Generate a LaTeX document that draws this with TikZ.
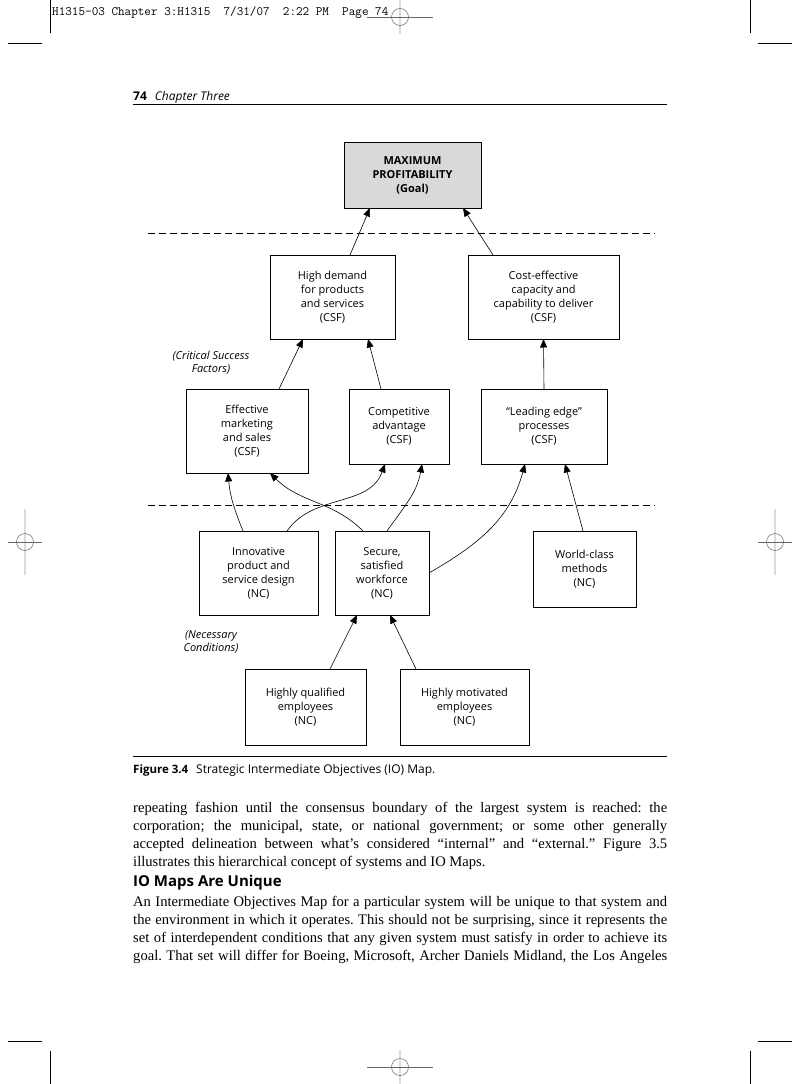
\documentclass[tikz,border=0pt]{standalone}
\usepackage{fontspec}
\setmainfont{Liberation Serif}
\setsansfont{Open Sans}
\usetikzlibrary{arrows.meta}
\definecolor{goalgray}{gray}{0.85}
\definecolor{reggray}{gray}{0.86}
\tikzset{
  box/.style={draw, line width=0.8pt, inner sep=0pt, outer sep=0pt, align=center,
    font=\sffamily\fontsize{11}{14}\selectfont},
  goalbox/.style={box, fill=goalgray, font=\sffamily\bfseries\fontsize{11}{14}\selectfont},
  note/.style={align=center, inner sep=0pt, font=\sffamily\itshape\fontsize{11}{13.5}\selectfont},
  link/.style={line width=0.6pt, -{Triangle[length=8.5pt, width=7pt]}},
  divider/.style={line width=0.7pt, dash pattern=on 6.5pt off 4.5pt},
  crop/.style={line width=0.8pt},
  bodyline/.style={anchor=base west, inner sep=0pt, font=\frenchspacing\fontsize{14.6}{18}\selectfont},
}
\begin{document}
\begin{tikzpicture}[x=1pt, y=-1pt]
    \useasboundingbox (0, 0) rectangle (800, 1084) ;
    % crop marks
    \draw[crop] (50, 0) -- (50, 33) ;
    \draw[crop] (8, 43) -- (42, 43) ;
    \draw[crop] (750, 0) -- (750, 33) ;
    \draw[crop] (758, 43) -- (792, 43) ;
    \draw[crop] (50, 1051) -- (50, 1084) ;
    \draw[crop] (8, 1041) -- (42, 1041) ;
    \draw[crop] (750, 1051) -- (750, 1084) ;
    \draw[crop] (758, 1041) -- (792, 1041) ;
    % registration marks
    \draw[reggray, line width=1.5pt] (400, 0) -- (400, 34) ;
    \draw[gray!80!black, line width=0.6pt] (367, 17) -- (433, 17) ;
    \draw[gray!80!black, line width=0.5pt] (400, 17) circle (8.5) ;
    \draw[reggray, line width=1.5pt] (400, 1050) -- (400, 1084) ;
    \draw[gray!80!black, line width=0.6pt] (367, 1067) -- (433, 1067) ;
    \draw[gray!80!black, line width=0.5pt] (400, 1067) circle (8.5) ;
    \draw[reggray, line width=1.5pt] (25, 509) -- (25, 575) ;
    \draw[gray!80!black, line width=0.6pt] (8, 542) -- (42, 542) ;
    \draw[gray!80!black, line width=0.5pt] (25, 542) circle (8.5) ;
    \draw[reggray, line width=1.5pt] (775, 509) -- (775, 575) ;
    \draw[gray!80!black, line width=0.6pt] (758, 542) -- (792, 542) ;
    \draw[gray!80!black, line width=0.5pt] (775, 542) circle (8.5) ;
    \node[anchor=base west, inner sep=0pt, font=\ttfamily\fontsize{12.8}{14}\selectfont] (slug) at (52, 15)
      {H1315-03 Chapter 3:H1315\ \ 7/31/07\ \ 2:22 PM\ \ Page 74} ;
    % running head
    \node[anchor=base west, inner sep=0pt, font=\sffamily\fontsize{12}{14}\selectfont] (runhead) at (133, 100)
      {\textbf{74}\hspace{8pt}\textit{Chapter Three}} ;
    \draw[crop] (133, 104) -- (667, 104) ;
    % the map
    \node[goalbox, minimum width=137, minimum height=66] (goal) at (412.5, 175)
      {MAXIMUM\\PROFITABILITY\\(Goal)} ;
    \draw[divider] (148, 233) -- (655, 233) ;
    \node[box, minimum width=125, minimum height=84] (demand) at (332.5, 297)
      {High demand\\for products\\and services\\(CSF)} ;
    \node[box, minimum width=151, minimum height=84] (capacity) at (543.5, 297)
      {Cost-effective\\capacity and\\capability to deliver\\(CSF)} ;
    \node[note] (csflabel) at (211, 362.5) {(Critical Success\\Factors)} ;
    \node[box, minimum width=122, minimum height=84] (marketing) at (247, 431)
      {Effective\\marketing\\and sales\\(CSF)} ;
    \node[box, minimum width=100, minimum height=75] (advantage) at (399, 426.5)
      {Competitive\\advantage\\(CSF)} ;
    \node[box, minimum width=126, minimum height=75] (processes) at (544, 426.5)
      {``Leading edge''\\processes\\(CSF)} ;
    \draw[divider] (148, 505) -- (655, 505) ;
    \node[box, minimum width=119, minimum height=84] (design) at (258.5, 573)
      {Innovative\\product and\\service design\\(NC)} ;
    \node[box, minimum width=94, minimum height=84] (workforce) at (382, 573)
      {Secure,\\satisfied\\workforce\\(NC)} ;
    \node[box, minimum width=103, minimum height=76] (methods) at (584.5, 569)
      {World-class\\methods\\(NC)} ;
    \node[note] (nclabel) at (211, 642) {(Necessary\\Conditions)} ;
    \node[box, minimum width=121, minimum height=76] (qualified) at (305.5, 707)
      {Highly qualified\\employees\\(NC)} ;
    \node[box, minimum width=129, minimum height=76] (motivated) at (464.5, 707)
      {Highly motivated\\employees\\(NC)} ;
    % arrows
    \draw[link] ([xshift=17.5pt]demand.north) -- ([xshift=-42.5pt]goal.south) ;
    \draw[link] ([xshift=-50.5pt]capacity.north) -- ([xshift=50.5pt]goal.south) ;
    \draw[link] ([xshift=32pt]marketing.north) -- ([xshift=-29.5pt]demand.south) ;
    \draw[link] ([xshift=-18pt]advantage.north) -- ([xshift=35.5pt]demand.south) ;
    \draw[link] (processes.north) -- (capacity.south) ;
    \draw[link] ([xshift=-15.5pt]design.north) to[out=112, in=-85] ([xshift=-19pt]marketing.south) ;
    \draw[link] ([xshift=28.5pt]design.north) to[out=55, in=-110] ([xshift=-14pt]advantage.south) ;
    \draw[link] ([xshift=-19pt]workforce.north) to[out=135, in=-45] ([xshift=23pt]marketing.south) ;
    \draw[link] ([xshift=5pt]workforce.north) to[out=55, in=-100] ([xshift=23pt]advantage.south) ;
    \draw[link] (workforce.east) to[out=30, in=-105] ([xshift=-19pt]processes.south) ;
    \draw[link] ([xshift=-1.5pt]methods.north) -- ([xshift=21pt]processes.south) ;
    \draw[link] ([xshift=24.5pt]qualified.north) -- ([xshift=-25pt]workforce.south) ;
    \draw[link] ([xshift=-48.5pt]motivated.north) -- ([xshift=8pt]workforce.south) ;
    % caption
    \draw[crop] (133, 756) -- (667, 756) ;
    \node[anchor=base west, inner sep=0pt, font=\sffamily\bfseries\fontsize{11.5}{14}\selectfont] (fignum) at (133, 773)
      {Figure 3.4} ;
    \node[anchor=base west, inner sep=0pt, font=\sffamily\fontsize{12}{14}\selectfont] (figtitle) at (196, 773)
      {Strategic Intermediate Objectives (IO) Map.} ;
    % body text
    \node[bodyline] (line1) at (133, 812)
      {\makebox[534pt][s]{repeating fashion until the consensus boundary of the largest system is reached: the}} ;
    \node[bodyline] (line2) at (133, 830)
      {\makebox[534pt][s]{corporation; the municipal, state, or national government; or some other generally}} ;
    \node[bodyline] (line3) at (133, 848)
      {\makebox[534pt][s]{accepted delineation between what's considered ``internal'' and ``external.'' Figure 3.5}} ;
    \node[bodyline] (line4) at (133, 866)
      {illustrates this hierarchical concept of systems and IO Maps.} ;
    \node[anchor=base west, inner sep=0pt, font=\sffamily\bfseries\fontsize{15}{18}\selectfont] (sechead) at (133, 886)
      {IO Maps Are Unique} ;
    \node[bodyline] (line5) at (133, 906)
      {\makebox[534pt][s]{An Intermediate Objectives Map for a particular system will be unique to that system and}} ;
    \node[bodyline] (line6) at (133, 924)
      {\makebox[534pt][s]{the environment in which it operates. This should not be surprising, since it represents the}} ;
    \node[bodyline] (line7) at (133, 942)
      {\makebox[534pt][s]{set of interdependent conditions that any given system must satisfy in order to achieve its}} ;
    \node[bodyline] (line8) at (133, 960)
      {\makebox[534pt][s]{goal. That set will differ for Boeing, Microsoft, Archer Daniels Midland, the Los Angeles}} ;
\end{tikzpicture}
\end{document}
